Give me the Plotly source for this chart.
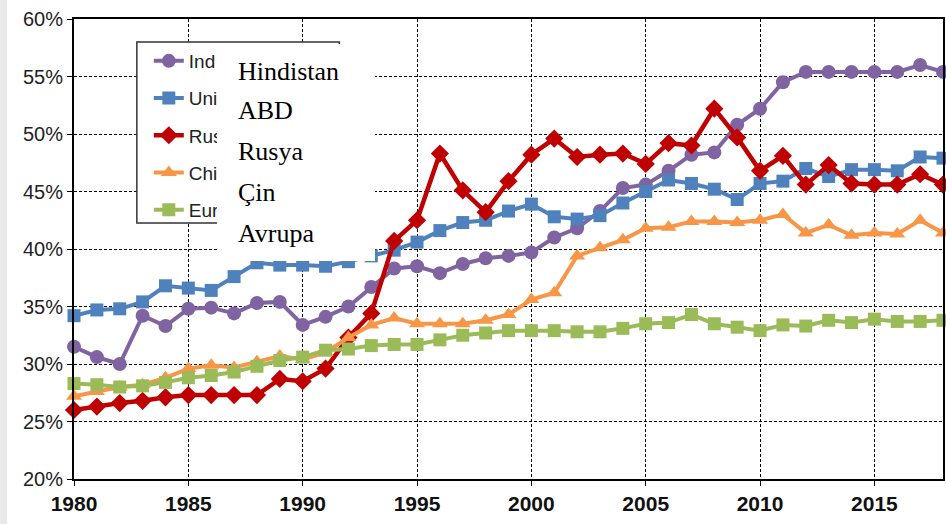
import plotly.graph_objects as go

years = list(range(1980, 2019))

india = [31.5, 30.6, 30.0, 34.2, 33.3, 34.8, 34.9, 34.4, 35.3, 35.4,
         33.4, 34.1, 35.0, 36.7, 38.3, 38.5, 37.9, 38.7, 39.2, 39.4,
         39.7, 41.0, 41.8, 43.3, 45.3, 45.6, 46.8, 48.2, 48.4, 50.8,
         52.2, 54.5, 55.4, 55.4, 55.4, 55.4, 55.4, 56.0, 55.4]
usa = [34.2, 34.7, 34.8, 35.4, 36.8, 36.6, 36.4, 37.6, 38.8, 38.6,
       38.6, 38.5, 38.9, 39.4, 39.9, 40.6, 41.6, 42.3, 42.5, 43.3,
       43.9, 42.8, 42.6, 42.9, 44.0, 45.0, 46.0, 45.7, 45.2, 44.3,
       45.7, 45.9, 47.0, 46.3, 46.9, 46.9, 46.8, 48.0, 47.9]
russia = [26.0, 26.3, 26.6, 26.8, 27.1, 27.3, 27.3, 27.3, 27.3, 28.7,
          28.5, 29.6, 32.3, 34.4, 40.7, 42.5, 48.3, 45.1, 43.2, 45.9,
          48.2, 49.6, 48.0, 48.2, 48.3, 47.4, 49.2, 49.0, 52.2, 49.7,
          46.8, 48.1, 45.6, 47.3, 45.7, 45.6, 45.6, 46.5, 45.6]
china = [27.2, 27.6, 28.0, 28.2, 28.8, 29.6, 29.9, 29.7, 30.2, 30.7,
         30.4, 31.0, 32.3, 33.4, 34.0, 33.5, 33.5, 33.5, 33.8, 34.3,
         35.6, 36.2, 39.4, 40.1, 40.8, 41.8, 41.9, 42.4, 42.4, 42.3,
         42.5, 43.0, 41.4, 42.1, 41.2, 41.4, 41.3, 42.5, 41.4]
europe = [28.3, 28.2, 28.0, 28.1, 28.4, 28.8, 29.0, 29.3, 29.8, 30.3,
          30.6, 31.2, 31.3, 31.6, 31.7, 31.7, 32.1, 32.5, 32.7, 32.9,
          32.9, 32.9, 32.8, 32.8, 33.1, 33.5, 33.6, 34.3, 33.5, 33.2,
          32.9, 33.4, 33.3, 33.8, 33.6, 33.9, 33.7, 33.7, 33.8]

# legend labels as they are visible (the rest is covered by the Turkish label box)
legend_names = ["Ind", "Uni", "Rus", "Chi", "Eur"]
turkish_labels = ["Hindistan", "ABD", "Rusya", "Çin", "Avrupa"]
x_ticks = [1980, 1985, 1990, 1995, 2000, 2005, 2010, 2015]
y_ticks = [20, 25, 30, 35, 40, 45, 50, 55, 60]

series = [india, usa, russia, china, europe]
colors = ["#8064A2", "#4F81BD", "#C00000", "#F79646", "#9BBB59"]
symbols = ["circle", "square", "diamond", "triangle-up", "square"]
msizes = [14, 13, 14, 14, 13]
widths = [4, 4, 4.5, 4, 4]

W, H = 946, 524
L, R, T, B = 74, 1, 19, 45
pw, ph = W - L - R, H - T - B

def px(x):
    return (x - L) / pw

def py(y):
    return (H - B - y) / ph

fig = go.Figure()
for i in range(5):
    fig.add_trace(go.Scatter(
        x=years, y=series[i], name=legend_names[i], mode="lines+markers",
        line=dict(color=colors[i], width=widths[i]),
        marker=dict(symbol=symbols[i], size=msizes[i], color=colors[i]),
        cliponaxis=False, legendgroup="g%d" % i,
    ))

shapes = [
    dict(type="rect", xref="paper", yref="paper", x0=px(0), x1=px(7), y0=py(524), y1=py(0),
         fillcolor="#e9e9e9", line=dict(width=0), layer="below"),
    dict(type="rect", xref="paper", yref="paper", x0=px(137), x1=px(340), y0=py(223), y1=py(42),
         fillcolor="white", line=dict(color="#333333", width=1.5), layer="above"),
]
fig.update_layout(shapes=shapes)

annotations = [
    dict(xref="paper", yref="paper", x=px(217), y=py(44), xanchor="left", yanchor="top",
         text=" ", showarrow=False, bgcolor="white", width=158, height=217,
         borderpad=0, borderwidth=0),
]
ty = [71, 111, 151, 192, 233]
for lab, yy in zip(turkish_labels, ty):
    annotations.append(dict(xref="paper", yref="paper", x=px(236), y=py(yy),
                            xanchor="left", yanchor="middle", text=lab, showarrow=False,
                            font=dict(family="Liberation Serif", size=26, color="black")))
fig.update_layout(annotations=annotations)

fig.update_layout(
    width=W, height=H,
    margin=dict(l=L, r=R, t=T, b=B, pad=0),
    paper_bgcolor="white", plot_bgcolor="white",
    font=dict(family="Liberation Sans, Arial", size=19, color="#222222"),
    showlegend=True,
    legend=dict(x=px(149), y=py(42), xanchor="left", yanchor="top",
                bgcolor="rgba(0,0,0,0)", borderwidth=0, tracegroupgap=9.5,
                font=dict(family="Liberation Sans, Arial", size=19, color="#222222"),
                itemwidth=30),
    xaxis=dict(range=[1980, 2018], tickvals=x_ticks, ticktext=[str(v) for v in x_ticks],
               showgrid=True, gridcolor="black", gridwidth=1, griddash="3px,2px",
               showline=True, linecolor="black", linewidth=2, mirror=True,
               ticks="outside", ticklen=5, tickcolor="black", zeroline=False,
               tickfont=dict(family="Liberation Sans, Arial", size=21, color="#111111", weight="bold")),
    yaxis=dict(range=[20, 60], tickvals=y_ticks, ticktext=["%d%%" % v for v in y_ticks],
               showgrid=True, gridcolor="black", gridwidth=1, griddash="3px,2px",
               showline=True, linecolor="black", linewidth=2, mirror=True,
               ticks="outside", ticklen=5, tickcolor="black", zeroline=False,
               tickfont=dict(family="Liberation Sans, Arial", size=20, color="#222222")),
)

fig.write_html("out.html", config={"displayModeBar": False},
               post_script="document.body.style.margin='0';document.body.style.overflow='hidden';")
